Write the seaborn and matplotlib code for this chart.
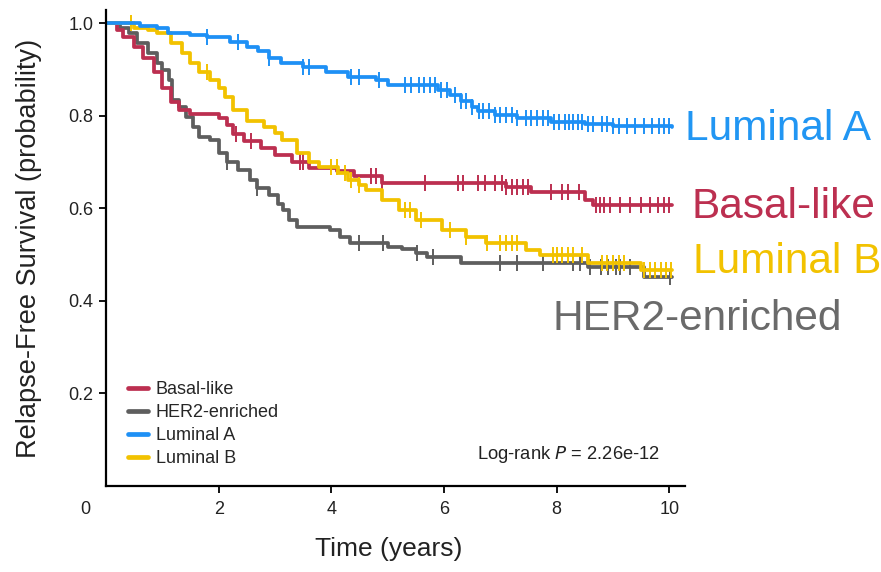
import numpy as np
import pandas as pd
import matplotlib
matplotlib.use("Agg")
import matplotlib.pyplot as plt
import seaborn as sns
from matplotlib.lines import Line2D
import matplotlib.transforms as mtrans

# ---------------- data ----------------
groups = ["Basal-like", "HER2-enriched", "Luminal A", "Luminal B"]

basal_t = [0, 0.2, 0.3, 0.5, 0.65, 0.85, 1.0, 1.15, 1.3, 1.5, 2.0, 2.15, 2.25, 2.45,
           2.75, 3.0, 3.3, 3.6, 4.1, 4.4, 4.9, 7.1, 7.55, 8.5, 8.65, 10.05]
basal_s = [1.0, 0.985, 0.97, 0.95, 0.925, 0.895, 0.86, 0.83, 0.813, 0.805, 0.795, 0.78,
           0.76, 0.745, 0.73, 0.715, 0.70, 0.688, 0.68, 0.67, 0.655, 0.647, 0.636, 0.618,
           0.607, 0.607]
basal_cens = [2.3, 2.57, 3.45, 3.5, 4.7, 4.8, 4.9, 5.67, 6.25, 6.34, 6.6, 6.73, 6.9, 7.03,
              7.1, 7.2, 7.3, 7.4, 7.5, 7.9, 8.1, 8.2, 8.4, 8.7, 8.77, 8.85, 8.95, 9.13,
              9.3, 9.5, 9.65, 9.8, 9.9, 10.0]

her2_t = [0, 0.25, 0.4, 0.55, 0.75, 0.9, 1.0, 1.12, 1.18, 1.3, 1.42, 1.55, 1.65, 1.85,
          2.0, 2.15, 2.35, 2.55, 2.68, 2.9, 3.05, 3.15, 3.25, 3.4, 3.98, 4.15, 4.33, 5.0,
          5.25, 5.5, 5.7, 6.3, 8.55, 9.55, 10.05]
her2_s = [1.0, 0.99, 0.98, 0.958, 0.936, 0.915, 0.90, 0.878, 0.835, 0.82, 0.798, 0.776,
          0.755, 0.748, 0.72, 0.70, 0.683, 0.662, 0.645, 0.63, 0.61, 0.597, 0.575, 0.56,
          0.553, 0.538, 0.525, 0.517, 0.512, 0.503, 0.495, 0.482, 0.474, 0.452, 0.452]
her2_cens = [2.15, 2.68, 4.5, 4.92, 5.52, 5.8, 7.0, 7.3, 7.76, 8.3, 8.42, 8.6, 8.78, 8.92,
             9.05, 9.13, 9.3, 10.02]

luma_t = [0, 0.6, 0.9, 1.1, 1.5, 1.8, 2.2, 2.5, 2.7, 2.9, 3.1, 3.5, 3.9, 4.3, 4.8, 5.0,
          5.9, 6.1, 6.3, 6.5, 6.6, 6.9, 7.3, 7.9, 8.5, 9.0, 10.05]
luma_s = [1.0, 0.995, 0.99, 0.98, 0.975, 0.97, 0.96, 0.95, 0.94, 0.925, 0.915, 0.905,
          0.895, 0.885, 0.877, 0.867, 0.856, 0.845, 0.832, 0.82, 0.81, 0.803, 0.795,
          0.787, 0.782, 0.778, 0.776]
luma_cens = [1.8, 2.35, 2.9, 3.5, 3.6, 4.35, 4.5, 4.85, 5.3, 5.42, 5.55, 5.65, 5.75, 5.85,
             5.95, 6.05, 6.2, 6.3, 6.4, 6.5, 6.62, 6.7, 6.8, 6.9, 7.0, 7.1, 7.2, 7.3,
             7.45, 7.55, 7.65, 7.75, 7.85, 7.95, 8.05, 8.15, 8.22, 8.3, 8.38, 8.45, 8.55,
             8.65, 8.8, 8.9, 9.0, 9.1, 9.25, 9.4, 9.55, 9.7, 9.82, 9.9, 10.0]

lumb_t = [0, 0.5, 0.75, 0.9, 1.15, 1.35, 1.5, 1.65, 1.85, 2.0, 2.12, 2.25, 2.5, 2.8, 3.0,
          3.12, 3.4, 3.6, 3.78, 4.12, 4.3, 4.5, 4.62, 4.9, 5.2, 5.5, 5.97, 6.4, 6.75, 7.45,
          7.7, 8.55, 9.5, 10.05]
lumb_s = [1.0, 0.99, 0.985, 0.98, 0.958, 0.935, 0.915, 0.895, 0.878, 0.86, 0.84, 0.813,
          0.79, 0.776, 0.763, 0.748, 0.72, 0.70, 0.69, 0.677, 0.662, 0.651, 0.64, 0.618,
          0.597, 0.575, 0.553, 0.538, 0.525, 0.51, 0.50, 0.482, 0.467, 0.467]
lumb_cens = [0.45, 1.79, 4.0, 4.1, 4.25, 4.35, 4.5, 5.3, 5.4, 5.6, 6.1, 6.4, 6.77, 7.0,
             7.1, 7.2, 7.3, 7.94, 8.0, 8.1, 8.2, 8.3, 8.45, 8.8, 8.9, 9.0, 9.1, 9.2,
             9.55, 9.65, 9.75, 9.85, 9.95, 10.03]

p_text = "2.26e-12"

colors = {"Basal-like": "#BC2F50", "HER2-enriched": "#5E5E5E",
          "Luminal A": "#1E90F5", "Luminal B": "#F2C200"}
label_colors = {"Basal-like": "#BC2F50", "HER2-enriched": "#6A6A6A",
                "Luminal A": "#2196F3", "Luminal B": "#F2C200"}

curves = {"Basal-like": (basal_t, basal_s, basal_cens),
          "HER2-enriched": (her2_t, her2_s, her2_cens),
          "Luminal A": (luma_t, luma_s, luma_cens),
          "Luminal B": (lumb_t, lumb_s, lumb_cens)}

rows = []
for g, (t, s, _) in curves.items():
    for ti, si in zip(t, s):
        rows.append((g, ti, si))
df = pd.DataFrame(rows, columns=["group", "time", "surv"])

def step_value(t, s, x):
    t = np.asarray(t); s = np.asarray(s)
    idx = np.searchsorted(t, x, side="right") - 1
    return s[np.clip(idx, 0, len(s) - 1)]

# ---------------- figure ----------------
sns.set_theme(style="ticks")
plt.rcParams["font.family"] = ["Liberation Sans", "DejaVu Sans"]

fig = plt.figure(figsize=(8.81, 5.72), dpi=100)
ax = fig.add_axes([106 / 881, 1 - 486 / 572, 579 / 881, 476 / 572])

draw_order = ["HER2-enriched", "Basal-like", "Luminal B", "Luminal A"]
for g in draw_order:
    sub = df[df["group"] == g]
    sns.lineplot(data=sub, x="time", y="surv", ax=ax, color=colors[g],
                 drawstyle="steps-post", linewidth=2.7, estimator=None,
                 sort=False, legend=False)
    t, s, cens = curves[g]
    cy = step_value(t, s, np.array(cens))
    ax.plot(cens, cy, ls="none", marker="|", ms=11, mew=1.4, color=colors[g])

ax.set_xlim(0, 10.28)
ax.set_ylim(0, 1.029)
ax.set_xticks([2, 4, 6, 8, 10])
ax.set_yticks([0.2, 0.4, 0.6, 0.8, 1.0])
ax.set_yticklabels(["0.2", "0.4", "0.6", "0.8", "1.0"])
ax.tick_params(axis="both", direction="out", length=5, width=1.3, colors="black",
               labelsize=13, labelcolor="#222222")
ax.tick_params(axis="x", pad=6)
ax.tick_params(axis="y", pad=4)
for sp in ["top", "right"]:
    ax.spines[sp].set_visible(False)
for sp in ["left", "bottom"]:
    ax.spines[sp].set_linewidth(1.6)
    ax.spines[sp].set_color("black")

trans = mtrans.blended_transform_factory(ax.transData, ax.transAxes)
ax.text(-0.37, -0.05, "0", transform=trans, ha="center", va="center",
        fontsize=13, color="#222222")

ax.set_xlabel("Time (years)", fontsize=19, color="#222222")
ax.set_ylabel("Relapse-Free Survival (probability)", fontsize=19.5, color="#222222")
ax.xaxis.set_label_coords(0.489, -0.108)
ax.yaxis.set_label_coords(-0.11, 0.5)

# right-side labels
right_pos = {"Luminal A": (10.28, 0.748), "Basal-like": (10.39, 0.579),
             "Luminal B": (10.43, 0.46), "HER2-enriched": (7.92, 0.337)}
for g, (x, y) in right_pos.items():
    ax.text(x, y, g, fontsize=30.5, color=label_colors[g], ha="left", va="baseline",
            clip_on=False)

# legend
handles = [Line2D([0], [0], color=colors[g], lw=3.4) for g in groups]
ax.legend(handles, groups, loc="lower left", bbox_to_anchor=(0.038, 0.04),
          frameon=False, fontsize=13, handlelength=1.1, handletextpad=0.45,
          labelspacing=0.33, borderpad=0, borderaxespad=0)

ax.text(0.64, 0.057, "Log-rank $\\it{P}$ = " + p_text, transform=ax.transAxes,
        fontsize=13.2, ha="left", va="baseline", color="#222222")

fig.savefig("out.png", dpi=100)
